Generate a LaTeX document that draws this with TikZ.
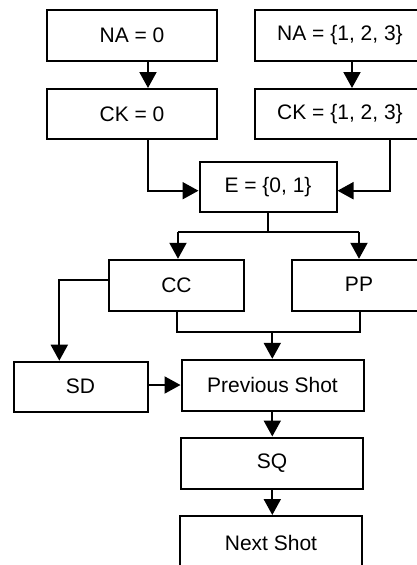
\documentclass[tikz,border=0pt]{standalone}
\usepackage{fontspec}
\setmainfont{Liberation Sans}
\usetikzlibrary{arrows.meta}
\begin{document}
\begin{tikzpicture}[x=1pt,y=-1pt,
  box/.style={draw=black,line width=2pt,fill=white,inner sep=0pt,align=center,
    font=\fontsize{21}{25}\selectfont},
  conn/.style={line width=2pt,draw=black},
  arr/.style={conn,-{Triangle[length=16pt,width=17pt]}}]
\useasboundingbox (0,0) rectangle (417,565);
\clip (0,0) rectangle (417,565);
\fill[white] (0,0) rectangle (417,565);
% boxes
\node[box,minimum width=170pt,minimum height=51pt] (NA0) at (132,35.5) {NA = 0};
\node[box,minimum width=170pt,minimum height=51pt] (NA1) at (340,35.5) {NA = \{1, 2, 3\}};
\node[box,minimum width=170pt,minimum height=50pt] (CK0) at (132,114) {CK = 0};
\node[box,minimum width=170pt,minimum height=50pt] (CK1) at (340,114) {CK = \{1, 2, 3\}};
\node[box,minimum width=137pt,minimum height=50pt] (E) at (268,187) {E = \{0, 1\}};
\node[box,minimum width=135pt,minimum height=51pt] (CC) at (176.5,285.3) {CC};
\node[box,minimum width=134pt,minimum height=51pt] (PP) at (359,285.3) {\raisebox{3pt}{PP}};
\node[box,minimum width=134pt,minimum height=50pt] (SD) at (80.5,386.7) {SD};
\node[box,minimum width=182pt,minimum height=51pt] (PS) at (272.5,385.3) {Previous Shot};
\node[box,minimum width=182pt,minimum height=51pt] (SQ) at (272,463) {SQ};
\node[box,minimum width=182pt,minimum height=54pt] (NS) at (271,543) {Next Shot};
% junction coordinates
\coordinate (jE) at (268,232.3);
\coordinate (jCCl) at (178,232.3);
\coordinate (jPPl) at (359,232.3);
\coordinate (jSD) at (59.3,280);
\coordinate (jB) at (272.3,331.7);
\coordinate (jBl) at (176.7,331.7);
\coordinate (jBr) at (360,331.7);
% connectors
\draw[arr] ([xshift=16pt]NA0.south) -- ([xshift=16pt]CK0.north);
\draw[arr] ([xshift=12pt]NA1.south) -- ([xshift=12pt]CK1.north);
\draw[arr] ([xshift=16pt]CK0.south) |- ([yshift=-3.7pt]E.west);
\draw[arr] ([xshift=50pt]CK1.south) |- ([yshift=-3.7pt]E.east);
\draw[conn] (E.south) -- (jE);
\draw[conn] (jCCl) -- (jPPl);
\draw[arr] (jCCl) -- (jCCl |- CC.north);
\draw[arr] (jPPl) -- (jPPl |- PP.north);
\draw[arr] ([yshift=5.3pt]CC.west) -| (jSD |- SD.north);
\draw[conn] (jBl |- CC.south) -- (jBl) -- (jBr) -- (jBr |- PP.south);
\draw[arr] (jB) -- (jB |- PS.north);
\draw[arr] (SD.east |- 0,385) -- (PS.west |- 0,385);
\draw[arr] (jB |- PS.south) -- (jB |- SQ.north);
\draw[arr] (jB |- SQ.south) -- (jB |- NS.north);
\end{tikzpicture}
\end{document}
